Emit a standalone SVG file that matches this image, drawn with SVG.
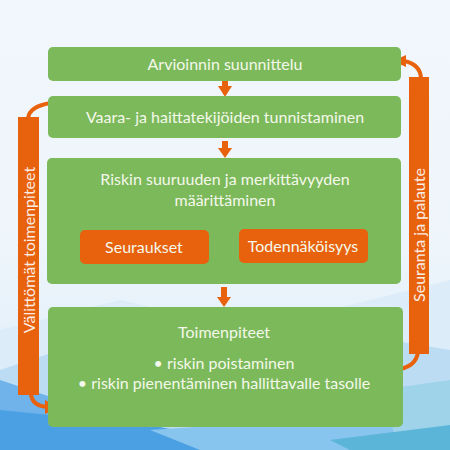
<svg xmlns="http://www.w3.org/2000/svg" width="450" height="450" viewBox="0 0 450 450">
<defs>
<style>
.box{fill:#7cb95b}
.obox{fill:#e8620e}
.bar{fill:#e8620e}
.t{font-family:"Lato","Open Sans",sans-serif;font-size:16px;fill:#f4f8ea;text-anchor:middle}
.tv{font-family:"Lato","Open Sans",sans-serif;font-size:16px;fill:#fbeee4;text-anchor:middle}
.conn{fill:none;stroke:#e8620e;stroke-width:4}
.head{fill:#e8620e}
</style>
<linearGradient id="bg" x1="0" y1="0" x2="0" y2="1">
<stop offset="0" stop-color="#f1f7fc"/>
<stop offset="0.55" stop-color="#eef5fb"/>
<stop offset="1" stop-color="#d8ebf8"/>
</linearGradient>
</defs>
<rect width="450" height="450" fill="url(#bg)"/>
<g id="background">
<polygon points="0,330 120,300 250,330 450,280 450,450 0,450" fill="#dcecf8"/>
<polygon points="0,370 90,340 200,360 330,330 450,350 450,450 0,450" fill="#bcdcf3"/>
<polygon points="0,380 60,400 150,420 0,450" fill="#6fb3ea"/>
<polygon points="0,410 150,425 250,445 300,450 0,450" fill="#4ba0e4"/>
<polygon points="150,430 450,410 450,450 200,450" fill="#87c4ee"/>
<polygon points="380,390 450,380 450,450 400,450" fill="#9fd3ea"/>
<polygon points="330,440 450,425 450,450 350,450" fill="#5bb5d8"/>
</g>
<g id="connectors">
<polygon class="head" points="218,86 232,86 225,97"/>
<rect x="222" y="81" width="6" height="6" class="head"/>
<polygon class="head" points="218,148 232,148 225,158"/>
<rect x="222" y="141" width="6" height="8" class="head"/>
<polygon class="head" points="217,297 231,297 224,307"/>
<rect x="221" y="287" width="6" height="11" class="head"/>
<path class="conn" d="M28,118 Q30,106 51,103"/>
<path class="conn" d="M31,394 Q32,406 48,407"/>
<polygon class="head" points="45,400 59,408 45,414"/>
<path class="conn" d="M421,78 Q420,64 404,61"/>
<polygon class="head" points="406,55 393,61 406,67"/>
<path class="conn" d="M418,352 Q416,368 394,370"/>
</g>
<g id="bar-left">
<rect class="bar" x="18" y="117" width="21" height="278"/>
<text class="tv" transform="translate(34.5,250) rotate(-90)">Välittömät toimenpiteet</text>
</g>
<g id="bar-right">
<rect class="bar" x="409" y="77" width="20" height="277"/>
<text class="tv" transform="translate(424.5,235) rotate(-90)">Seuranta ja palaute</text>
</g>
<g id="node1">
<rect class="box" x="48" y="47" width="353" height="34" rx="5"/>
<text class="t" x="225" y="69.5">Arvioinnin suunnittelu</text>
</g>
<g id="node2">
<rect class="box" x="48" y="96" width="353" height="42" rx="5"/>
<text class="t" x="225" y="122.5">Vaara- ja haittatekijöiden tunnistaminen</text>
</g>
<g id="node3">
<rect class="box" x="47" y="158" width="354" height="126" rx="5"/>
<text class="t" x="225" y="184.5">Riskin suuruuden ja merkittävyyden</text>
<text class="t" x="225" y="205.5">määrittäminen</text>
</g>
<g id="node3a">
<rect class="obox" x="80" y="230" width="129" height="34" rx="5"/>
<text class="t" x="144" y="252.5">Seuraukset</text>
</g>
<g id="node3b">
<rect class="obox" x="239" y="229" width="129" height="34" rx="5"/>
<text class="t" x="303" y="251.5">Todennäköisyys</text>
</g>
<g id="node4">
<rect class="box" x="48" y="307" width="355" height="120" rx="5"/>
<text class="t" x="224" y="337.5">Toimenpiteet</text>
<text class="t" x="224" y="368.5">• riskin poistaminen</text>
<text class="t" x="224" y="388.5">• riskin pienentäminen hallittavalle tasolle</text>
</g>
</svg>
